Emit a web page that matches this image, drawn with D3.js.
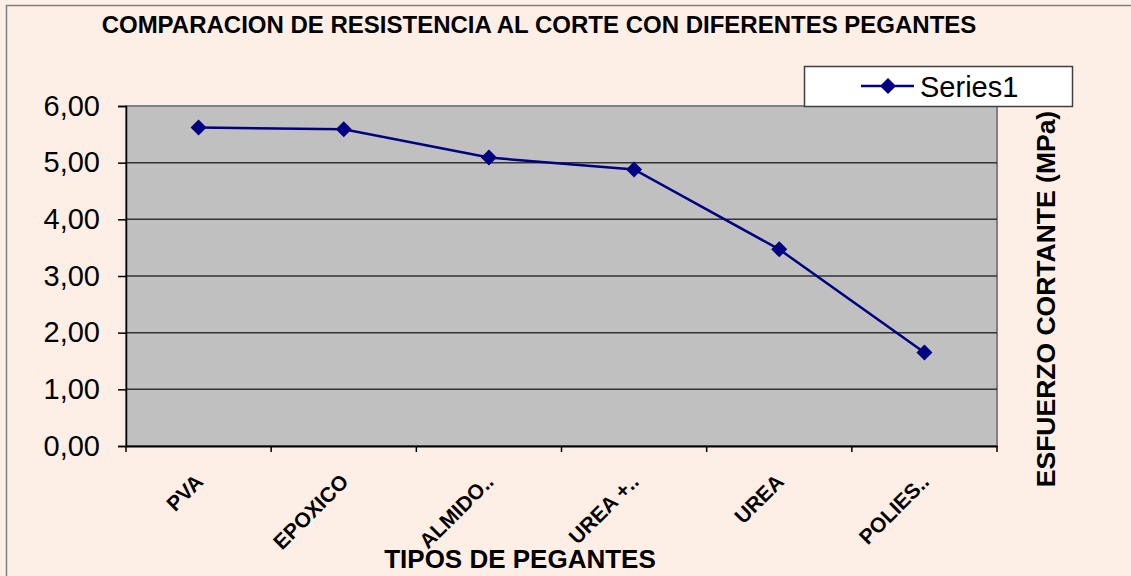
<!DOCTYPE html>
<html>
<head>
<meta charset="utf-8">
<script src="https://cdn.jsdelivr.net/npm/d3@7"></script>
<style>
  body { margin: 0; background: #fdefe6; }
  text { font-family: "Liberation Sans", Arial, sans-serif; }
</style>
</head>
<body>
<div id="chart"></div>
<script>
var categories = ["PVA", "EPOXICO", "ALMIDO..", "UREA +..", "UREA", "POLIES.."];
var values = [5.62, 5.59, 5.09, 4.88, 3.47, 1.65];
var yTicks = [0, 1, 2, 3, 4, 5, 6];
var seriesName = "Series1";

var W = 1131, H = 576;
var plot = {left: 126, top: 106, right: 997, bottom: 446};

var svg = d3.select("#chart")
  .append("svg")
    .attr("width", W)
    .attr("height", H);

// chart frame
svg.append("rect")
  .attr("x", 6.5).attr("y", 5.5)
  .attr("width", W + 20).attr("height", H + 20)
  .attr("fill", "#fdefe6")
  .attr("stroke", "#808080")
  .attr("stroke-width", 1.5);

var x = d3.scaleBand()
  .domain(categories)
  .range([plot.left, plot.right])
  .padding(0);

var y = d3.scaleLinear()
  .domain([0, 6])
  .range([plot.bottom, plot.top]);

// plot area
svg.append("rect")
  .attr("x", plot.left).attr("y", plot.top)
  .attr("width", plot.right - plot.left)
  .attr("height", plot.bottom - plot.top)
  .attr("fill", "#c0c0c0")
  .attr("stroke", "#808080")
  .attr("stroke-width", 2);

// gridlines
svg.append("g")
  .selectAll("line")
  .data(yTicks.filter(function(d) { return d > 0 && d < 6; }))
  .enter()
  .append("line")
    .attr("x1", plot.left).attr("x2", plot.right)
    .attr("y1", function(d) { return y(d); })
    .attr("y2", function(d) { return y(d); })
    .attr("stroke", "#333")
    .attr("stroke-width", 1.5);

// y axis
var yAxis = svg.append("g")
  .attr("transform", "translate(" + plot.left + ",0)")
  .call(d3.axisLeft(y)
    .tickValues(yTicks)
    .tickSize(8)
    .tickPadding(18)
    .tickFormat(function(d) { return d3.format(".2f")(d).replace(".", ","); }));
yAxis.select(".domain").attr("stroke", "#000").attr("stroke-width", 1.5);
yAxis.selectAll(".tick line").attr("stroke", "#000").attr("stroke-width", 1.5);
yAxis.selectAll("text")
  .attr("font-size", 29)
  .attr("fill", "#000")
  .style("font-family", "'Liberation Sans', Arial, sans-serif");

// x axis
var xAxis = svg.append("g")
  .attr("transform", "translate(0," + plot.bottom + ")")
  .call(d3.axisBottom(x).tickSize(0).tickFormat(""));
xAxis.select(".domain").attr("stroke", "#000").attr("stroke-width", 2);

// tick marks between categories
svg.append("g")
  .selectAll("line")
  .data(categories.concat(["end"]))
  .enter()
  .append("line")
    .attr("x1", function(d, i) { return i < categories.length ? x(d) : x(categories[i - 1]) + x.bandwidth(); })
    .attr("x2", function(d, i) { return i < categories.length ? x(d) : x(categories[i - 1]) + x.bandwidth(); })
    .attr("y1", plot.bottom)
    .attr("y2", plot.bottom + 6)
    .attr("stroke", "#000")
    .attr("stroke-width", 1.5);

svg.append("g")
  .selectAll("text")
  .data(categories)
  .enter()
  .append("text")
    .attr("transform", function(d) {
      return "translate(" + (x(d) + x.bandwidth() / 2 + 6) + "," + (plot.bottom + 37) + ") rotate(-45)";
    })
    .attr("text-anchor", "end")
    .attr("font-size", 21)
    .attr("font-weight", "bold")
    .attr("fill", "#000")
    .text(function(d) { return d; });

// series line
var line = d3.line()
  .x(function(d, i) { return x(categories[i]) + x.bandwidth() / 2; })
  .y(function(d) { return y(d); });

svg.append("path")
  .datum(values)
  .attr("d", line)
  .attr("fill", "none")
  .attr("stroke", "#000080")
  .attr("stroke-width", 2.5);

svg.append("g")
  .selectAll("path")
  .data(values)
  .enter()
  .append("path")
    .attr("d", "M0,-8L8,0L0,8L-8,0Z")
    .attr("transform", function(d, i) {
      return "translate(" + (x(categories[i]) + x.bandwidth() / 2) + "," + y(d) + ")";
    })
    .attr("fill", "#000080");

// title
svg.append("text")
  .attr("x", 539).attr("y", 33)
  .attr("text-anchor", "middle")
  .attr("font-size", 24)
  .attr("font-weight", "bold")
  .text("COMPARACION DE RESISTENCIA AL CORTE CON DIFERENTES PEGANTES");

// axis titles
svg.append("text")
  .attr("x", 520).attr("y", 568)
  .attr("text-anchor", "middle")
  .attr("font-size", 26)
  .attr("font-weight", "bold")
  .text("TIPOS DE PEGANTES");

svg.append("text")
  .attr("transform", "translate(1055,299) rotate(-90)")
  .attr("text-anchor", "middle")
  .attr("font-size", 26.5)
  .attr("font-weight", "bold")
  .text("ESFUERZO CORTANTE (MPa)");

// legend
var legend = svg.append("g");
legend.append("rect")
  .attr("x", 804.5).attr("y", 66.5)
  .attr("width", 268).attr("height", 40)
  .attr("fill", "#fff")
  .attr("stroke", "#404040")
  .attr("stroke-width", 1.5);
legend.append("line")
  .attr("x1", 861).attr("x2", 914)
  .attr("y1", 86).attr("y2", 86)
  .attr("stroke", "#000080")
  .attr("stroke-width", 2.5);
legend.append("path")
  .attr("d", "M0,-8L8,0L0,8L-8,0Z")
  .attr("transform", "translate(888,86)")
  .attr("fill", "#000080");
legend.append("text")
  .attr("x", 920).attr("y", 97)
  .attr("font-size", 29)
  .text(seriesName);
</script>
</body>
</html>
